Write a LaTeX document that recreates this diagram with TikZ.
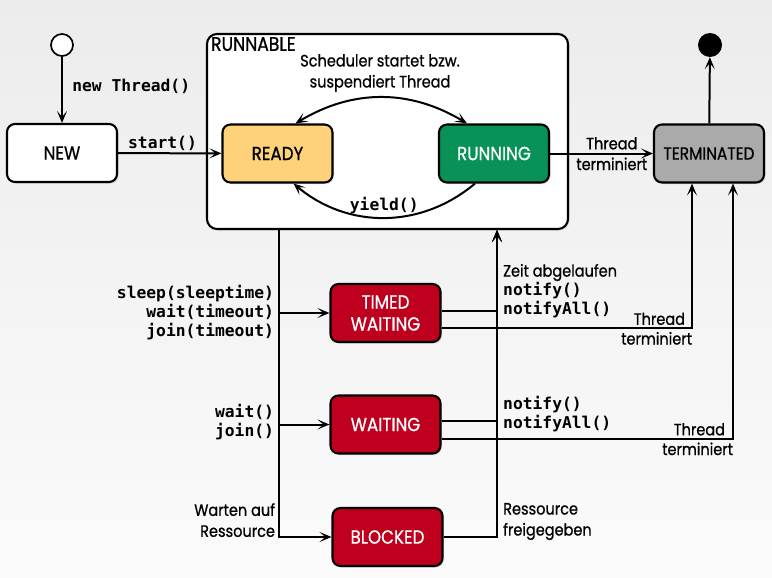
\documentclass[tikz,border=0pt]{standalone}
\usepackage{fontspec}
\setmainfont[FakeStretch=0.88,FakeBold=0.8]{Poppins}
\newfontfamily\monofont{DejaVu Sans Mono}
\usetikzlibrary{arrows.meta,shadows,calc}
\definecolor{readyc}{RGB}{253,210,122}
\definecolor{runc}{RGB}{8,146,88}
\definecolor{redc}{RGB}{190,0,30}
\definecolor{termc}{RGB}{170,170,170}
\definecolor{bgtop}{RGB}{236,236,236}
\definecolor{bgbot}{RGB}{251,251,251}
\begin{document}
\begin{tikzpicture}[x=1pt,y=-1pt,
  every node/.style={font=\fontsize{16.5}{21}\selectfont},
  mono/.style={font=\monofont\bfseries\fontsize{16.3}{19}\selectfont},
  state/.style={draw, line width=2.1pt, rounded corners=8pt, minimum width=110pt,
    minimum height=58pt, inner sep=2pt, align=center, font=\fontsize{19}{22}\selectfont,
    drop shadow={shadow xshift=1.5pt,shadow yshift=-1.5pt,opacity=0.25}},
  redstate/.style={state, fill=redc, text=white},
  tip/.tip={Stealth[length=12pt,width=10pt,inset=6pt]},
  conn/.style={line width=2pt, -tip},
  conn2/.style={line width=2pt, tip-tip},
  lbl/.style={inner sep=1pt}
]
\fill[top color=bgtop, bottom color=bgbot] (0,0) rectangle (772,578);
\useasboundingbox (0,0) rectangle (772,578);

% runnable container
\node[draw, line width=2.1pt, rounded corners=10pt, fill=white, minimum width=361pt,
  minimum height=195pt, drop shadow={shadow xshift=1.5pt,shadow yshift=-1.5pt,opacity=0.2}]
  (runnable) at (387.5,131.5) {};
\node[anchor=north west, inner sep=0pt, font=\fontsize{19.5}{22}\selectfont] (rlabel) at ([xshift=5pt,yshift=-4pt]runnable.north west) {RUNNABLE};

% states
\node[circle, draw, fill=white, line width=1.7pt, minimum size=22pt, inner sep=0pt] (start) at (62,45) {};
\node[circle, fill=black, minimum size=24pt, inner sep=0pt] (end) at (710,45) {};
\node[state, fill=white] (new) at (62,153) {NEW};
\node[state, fill=readyc] (ready) at (277.5,153.5) {READY};
\node[state, fill=runc, text=white] (running) at (494,153.5) {RUNNING};
\node[state, fill=termc, font=\fontsize{17.5}{22}\selectfont] (term) at (709,153.5) {TERMINATED};
\node[redstate] (timed) at (385.5,313) {TIMED\\WAITING};
\node[redstate] (waiting) at (385.5,424.5) {WAITING};
\node[redstate] (blocked) at (387.5,537) {BLOCKED};

% top connectors
\draw[conn] (start) -- node[pos=0.45, right=6pt, mono] {new Thread()} (new);
\draw[conn] (new) -- node[above, pos=0.43, mono, inner sep=2pt] {start()} (ready);
\draw[conn] (running) -- node[pos=0.6, above, inner sep=3pt] {Thread} node[pos=0.6, below, inner sep=3pt] {terminiert} (term);
\draw[conn] (term) -- (end);

\draw[conn2] ([xshift=18pt]ready.north) to[bend left=31] ([xshift=-27pt]running.north);
\node[align=center, inner sep=0pt] (sched) at (380,73) {Scheduler startet bzw.\\suspendiert Thread};
\draw[conn] ([xshift=-19pt]running.south) to[bend left=40] node[above, mono, inner sep=3pt] {yield()} ([xshift=16pt]ready.south);

% left tree
\coordinate (lt) at ([xshift=1.5pt]ready.center |- runnable.south);
\draw[conn] (lt) |- node[pos=0.5, left, mono, align=right, inner sep=4pt] {sleep(sleeptime)\\wait(timeout)\\join(timeout)} (timed);
\draw[conn] (lt) |- node[pos=0.5, left, mono, align=right, inner sep=4pt, yshift=2pt] {wait()\\join()} (waiting);
\draw[conn] (lt) |- node[pos=0.5, anchor=south east, align=right, inner sep=3pt, yshift=-4pt] {Warten auf\\Ressource} (blocked);

% right tree
\coordinate (rt) at ([xshift=3pt]running.center |- runnable.south);
\draw[conn] ([yshift=2pt]timed.east) -| (rt);
\draw[conn] ([yshift=3.5pt]waiting.east) -| (rt);
\draw[conn] (blocked.east) -| (rt);
\node[anchor=west, align=left, inner sep=0pt] (zeit) at (503,291) {Zeit abgelaufen\\[-2pt]{\monofont\bfseries\fontsize{16.3}{19}\selectfont notify()}\\[-2pt]{\monofont\bfseries\fontsize{16.3}{19}\selectfont notifyAll()}};
\node[anchor=west, align=left, inner sep=0pt, mono] (notw) at (503,414.5) {notify()\\notifyAll()};
\node[anchor=west, align=left, inner sep=0pt] (freig) at (503,521.5) {Ressource\\freigegeben};

% to terminated
\draw[conn] ([yshift=-15pt]timed.east) -| node[pos=0.5, anchor=south east, lbl, xshift=-5pt, yshift=1pt] {Thread} node[pos=0.5, anchor=north east, lbl, xshift=2pt, yshift=-2pt] {terminiert} ([xshift=-17pt]term.south);
\draw[conn] ([yshift=-14pt]waiting.east) -| node[pos=0.5, anchor=south east, lbl, xshift=-6pt, yshift=1pt] {Thread} node[pos=0.5, anchor=north east, lbl, xshift=2pt, yshift=-2pt] {terminiert} ([xshift=24pt]term.south);
\end{tikzpicture}
\end{document}
